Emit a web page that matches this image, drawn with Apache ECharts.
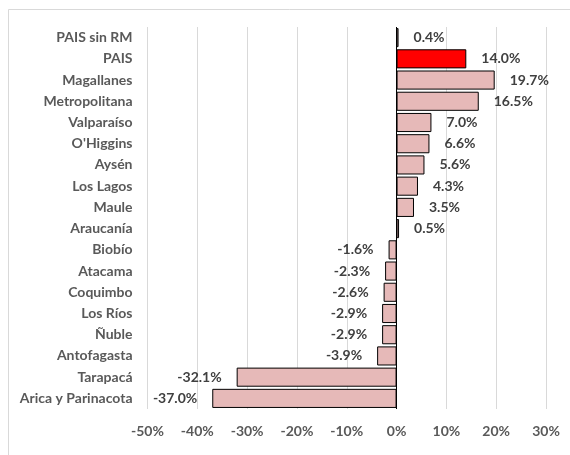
<!DOCTYPE html>
<html>
<head>
<meta charset="utf-8">
<script src="https://cdn.jsdelivr.net/npm/echarts@6/dist/echarts.min.js"></script>
<style>
  html, body { margin: 0; padding: 0; background: #fff; }
  #myChart { width: 570px; height: 455px; }
</style>
</head>
<body>
<div id="myChart"></div>
<script>
// regiones, de arriba hacia abajo
var regiones = ['PAIS sin RM', 'PAIS', 'Magallanes', 'Metropolitana', 'Valparaíso', "O'Higgins", 'Aysén',
  'Los Lagos', 'Maule', 'Araucanía', 'Biobío', 'Atacama', 'Coquimbo', 'Los Ríos', 'Ñuble',
  'Antofagasta', 'Tarapacá', 'Arica y Parinacota']
// variación en %
var variacion = [0.4, 14.0, 19.7, 16.5, 7.0, 6.6, 5.6, 4.3, 3.5, 0.5, -1.6, -2.3, -2.6, -2.9, -2.9, -3.9, -32.1, -37.0]
var ejeMin = -50
var ejeMax = 30
var ejeIntervalo = 10

var fuente = 'Lato'

var datos = []
for (var i = 0; i < variacion.length; i++) {
  var v = variacion[i]
  datos.push({
    value: v,
    itemStyle: { color: regiones[i] === 'PAIS' ? '#FF0000' : '#E6B9B8' },
    label: { position: v < 0 ? 'left' : 'right' }
  })
}

var option = {
  backgroundColor: '#fff',
  animation: false,
  graphic: [{
    type: 'rect',
    shape: { x: 8.5, y: 9.5, width: 700, height: 600 },
    style: { fill: 'none', stroke: '#D9D9D9', lineWidth: 1 }
  }],
  grid: { left: 147.5, right: 24, top: 27, bottom: 46 },
  xAxis: {
    type: 'value',
    min: ejeMin,
    max: ejeMax,
    interval: ejeIntervalo,
    axisLine: { show: false },
    axisTick: { show: false },
    splitLine: { lineStyle: { color: '#D9D9D9', width: 1 } },
    axisLabel: {
      margin: 15,
      color: '#595959',
      fontFamily: fuente,
      fontWeight: 'bold',
      fontSize: 14
    , formatter: function (v) { return v + '%' }
    }
  },
  yAxis: {
    type: 'category',
    inverse: true,
    data: regiones,
    axisLine: { show: false },
    axisTick: { show: false },
    axisLabel: {
      margin: 15,
      color: '#595959',
      fontFamily: fuente,
      fontWeight: 'bold',
      fontSize: 14
    }
  },
  series: [{
    type: 'bar',
    data: datos,
    barCategoryGap: '10%',
    itemStyle: { borderColor: '#000', borderWidth: 1 },
    label: {
      show: true,
      distance: 15,
      color: '#404040',
      fontFamily: fuente,
      fontWeight: 'bold',
      fontSize: 14,
      formatter: function (p) { return p.value.toFixed(1) + '%' }
    },
    markLine: {
      silent: true,
      symbol: 'none',
      label: { show: false },
      lineStyle: { color: '#000', type: 'solid', width: 1 },
      data: [{ xAxis: 0 }]
    }
  }]
}

var myChart = echarts.init(document.getElementById('myChart'))
myChart.setOption(option)
</script>
</body>
</html>
